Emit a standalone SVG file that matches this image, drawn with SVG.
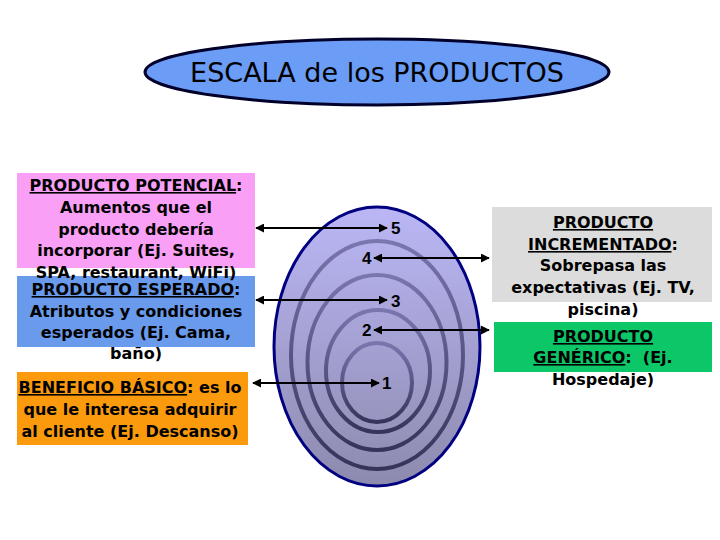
<svg xmlns="http://www.w3.org/2000/svg" width="720" height="540" viewBox="0 0 720 540">
<defs>
<style>
.t{font-family:"DejaVu Sans",Verdana,sans-serif;font-weight:bold;font-size:16px;fill:#000;text-anchor:middle}
.u{text-decoration:underline}
.n{font-family:"Liberation Sans",Arial,sans-serif;font-weight:bold;font-size:17px;fill:#000}
.ring{fill:none;stroke:url(#rg);stroke-width:4}
.ar{stroke:#000;stroke-width:2;fill:none;marker-start:url(#ah);marker-end:url(#ah)}
</style>
<linearGradient id="eg" x1="0" y1="0" x2="0" y2="1">
<stop offset="0" stop-color="#BBB7F6"/>
<stop offset="1" stop-color="#8D8AAE"/>
</linearGradient>
<linearGradient id="rg" x1="0" y1="0" x2="0" y2="1">
<stop offset="0" stop-color="#7A76AE"/>
<stop offset="1" stop-color="#36345A"/>
</linearGradient>
<marker id="ah" viewBox="0 0 10 10" refX="9" refY="5" markerWidth="4.5" markerHeight="4.5" orient="auto-start-reverse">
<path d="M0,0 L10,5 L0,10 Z" fill="#000"/>
</marker>
</defs>
<rect width="720" height="540" fill="#fff"/>

<g id="title">
<ellipse cx="377" cy="72" rx="232" ry="33" fill="#6B9CF6" stroke="#00002A" stroke-width="3"/>
<text x="377" y="82" font-family="'DejaVu Sans',Verdana,sans-serif" font-size="27" text-anchor="middle" fill="#000">ESCALA de los PRODUCTOS</text>
</g>

<g id="egg">
<ellipse cx="377" cy="346.5" rx="103" ry="139.5" fill="url(#eg)" stroke="#000080" stroke-width="3"/>
<ellipse class="ring" cx="377" cy="355" rx="86" ry="114"/>
<ellipse class="ring" cx="377" cy="362.5" rx="69.5" ry="87.5"/>
<ellipse class="ring" cx="378" cy="371" rx="52" ry="61"/>
<ellipse class="ring" cx="377" cy="382.5" rx="35" ry="39.5"/>
<text class="n" x="391" y="234">5</text>
<text class="n" x="362" y="264">4</text>
<text class="n" x="391" y="307">3</text>
<text class="n" x="362" y="336">2</text>
<text class="n" x="382" y="389">1</text>
</g>

<g id="esperado">
<rect x="17" y="276" width="238" height="71" fill="#6A9AEC"/>
<text class="t"><tspan x="136" y="295"><tspan class="u">PRODUCTO ESPERADO</tspan>:</tspan><tspan x="136" y="317">Atributos y condiciones</tspan><tspan x="136" y="338">esperados (Ej. Cama,</tspan><tspan x="136" y="359">baño)</tspan></text>
</g>

<g id="potencial">
<rect x="17" y="173" width="238" height="95" fill="#F9A0F6"/>
<text class="t"><tspan x="136" y="191"><tspan class="u">PRODUCTO POTENCIAL</tspan>:</tspan><tspan x="136" y="213">Aumentos que el</tspan><tspan x="136" y="235">producto debería</tspan><tspan x="136" y="256">incorporar (Ej. Suites,</tspan><tspan x="136" y="278">SPA, restaurant, WiFi)</tspan></text>
</g>

<g id="basico">
<rect x="17" y="372" width="231" height="73" fill="#FA9A0C"/>
<text class="t"><tspan x="130" y="393"><tspan class="u">BENEFICIO BÁSICO</tspan>: es lo</tspan><tspan x="130" y="415">que le interesa adquirir</tspan><tspan x="130" y="437">al cliente (Ej. Descanso)</tspan></text>
</g>

<g id="incrementado">
<rect x="492" y="207" width="220" height="95" fill="#DCDCDC"/>
<text class="t"><tspan x="603" y="228" class="u">PRODUCTO</tspan><tspan x="603" y="250"><tspan class="u">INCREMENTADO</tspan>:</tspan><tspan x="603" y="271">Sobrepasa las</tspan><tspan x="603" y="293">expectativas (Ej. TV,</tspan><tspan x="603" y="315">piscina)</tspan></text>
</g>

<g id="generico">
<rect x="494" y="322" width="218" height="50" fill="#0CC768"/>
<text class="t"><tspan x="603" y="342" class="u">PRODUCTO</tspan><tspan x="603" y="363"><tspan class="u">GENÉRICO</tspan>:&#160; (Ej.</tspan><tspan x="603" y="385">Hospedaje)</tspan></text>
</g>

<g id="connectors">
<line class="ar" x1="256" y1="228" x2="387" y2="228"/>
<line class="ar" x1="374" y1="258" x2="489" y2="258"/>
<line class="ar" x1="256" y1="300" x2="387" y2="300"/>
<line class="ar" x1="374" y1="330" x2="489" y2="330"/>
<line class="ar" x1="253" y1="383" x2="379" y2="383"/>
</g>
</svg>
